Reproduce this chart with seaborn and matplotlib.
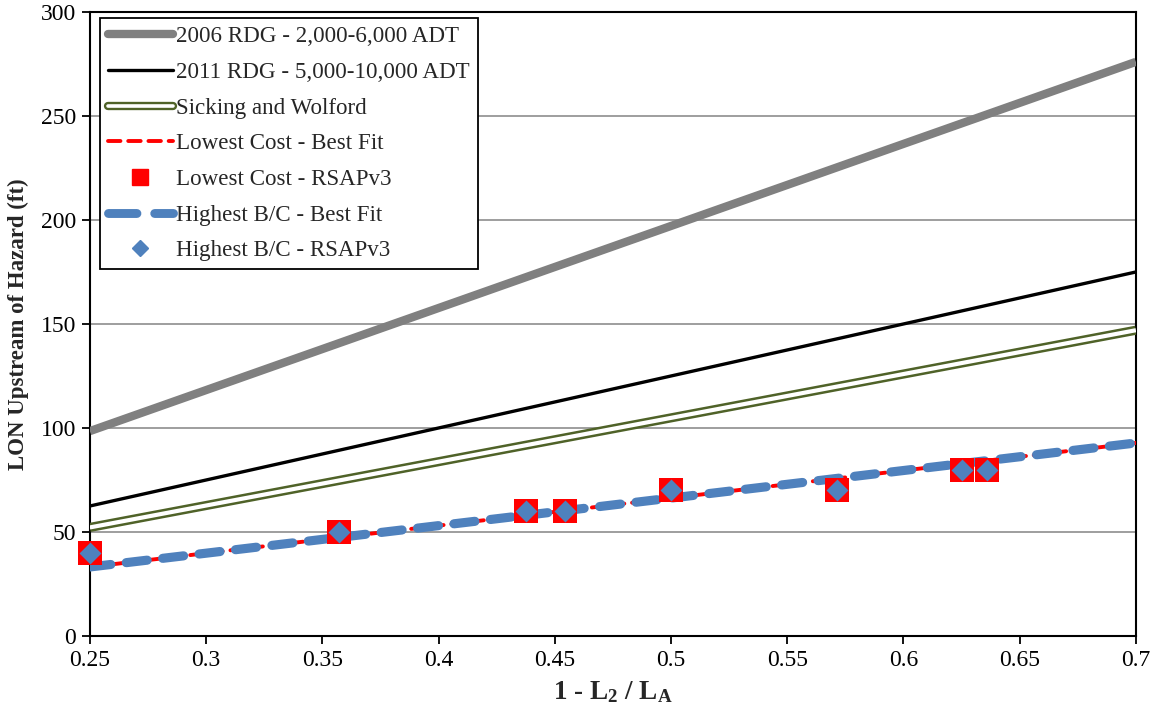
import matplotlib
matplotlib.use("Agg")
import matplotlib.pyplot as plt
from matplotlib.lines import Line2D
import seaborn as sns
import numpy as np

# ---------------- data ----------------
line_x = [0.25, 0.70]
rdg2006_y = [98.5, 276.0]
rdg2011_y = [62.5, 175.0]
sicking_y = [52.2, 147.0]
lowcost_fit_y = [33.2, 92.8]
highbc_fit_y = [33.2, 92.8]

pts_x = [0.25, 0.357, 0.4375, 0.4545, 0.5, 0.5714, 0.625, 0.636]
lowcost_pts_y = [40, 50, 60, 60, 70, 70, 80, 80]
highbc_pts_y = [40, 50, 60, 60, 70, 70, 80, 80]

x_ticks = [0.25, 0.3, 0.35, 0.4, 0.45, 0.5, 0.55, 0.6, 0.65, 0.7]
x_tick_labels = ["0.25", "0.3", "0.35", "0.4", "0.45", "0.5", "0.55", "0.6", "0.65", "0.7"]
y_ticks = [0, 50, 100, 150, 200, 250, 300]

labels = ["2006 RDG - 2,000-6,000 ADT", "2011 RDG - 5,000-10,000 ADT",
          "Sicking and Wolford", "Lowest Cost - Best Fit", "Lowest Cost - RSAPv3",
          "Highest B/C - Best Fit", "Highest B/C - RSAPv3"]

# ---------------- style ----------------
sns.set_style("white")
plt.rcParams["font.family"] = ["Liberation Serif", "DejaVu Serif"]
plt.rcParams["mathtext.fontset"] = "custom"
plt.rcParams["mathtext.rm"] = "Liberation Serif:bold"
plt.rcParams["mathtext.bf"] = "Liberation Serif:bold"
plt.rcParams["mathtext.it"] = "Liberation Serif:bold"

GRAY = "#808080"
OLIVE = "#4F6228"
RED = "#FF0000"
BLUE = "#4F81BD"

fig = plt.figure(figsize=(11.52, 7.19), dpi=100)
ax = fig.add_axes([0.078, 0.1154, 0.908, 0.868])

ax.yaxis.grid(True, color="#969696", lw=1.3, zorder=0)
ax.xaxis.grid(False)
ax.set_axisbelow(True)

sns.lineplot(x=line_x, y=rdg2006_y, ax=ax, color=GRAY, lw=6.0, solid_capstyle="butt", legend=False, zorder=3)
sns.lineplot(x=line_x, y=rdg2011_y, ax=ax, color="black", lw=2.4, solid_capstyle="butt", legend=False, zorder=3)
sns.lineplot(x=line_x, y=sicking_y, ax=ax, color=OLIVE, lw=6.6, solid_capstyle="butt", legend=False, zorder=3)
sns.lineplot(x=line_x, y=sicking_y, ax=ax, color="white", lw=3.0, solid_capstyle="butt", legend=False, zorder=3.1)
sns.lineplot(x=line_x, y=lowcost_fit_y, ax=ax, color=RED, lw=2.8,
             linestyle=(0, (3.2, 2.0)), dash_capstyle="round", legend=False, zorder=4)
sns.lineplot(x=line_x, y=highbc_fit_y, ax=ax, color=BLUE, lw=6.6,
             linestyle=(0, (2.3, 1.7)), dash_capstyle="round", legend=False, zorder=4.1)
sns.scatterplot(x=pts_x, y=lowcost_pts_y, ax=ax, marker="s", s=290, color=RED,
                linewidth=0, legend=False, zorder=5, clip_on=False)
sns.scatterplot(x=pts_x, y=highbc_pts_y, ax=ax, marker="D", s=125, color=BLUE,
                linewidth=0, legend=False, zorder=6, clip_on=False)

ax.set_xlim(0.25, 0.7)
ax.set_ylim(0, 300)
ax.set_xticks(x_ticks)
ax.set_xticklabels(x_tick_labels)
ax.set_yticks(y_ticks)
ax.tick_params(axis="both", direction="out", length=6, width=1.3, labelsize=17,
               colors="black", bottom=True, left=True, pad=4)
for s in ax.spines.values():
    s.set_visible(True)
    s.set_color("black")
    s.set_linewidth(1.5)

ax.set_ylabel("LON Upstream of Hazard (ft)", fontsize=16.5, fontweight="bold", labelpad=8)
ax.set_xlabel(r"1 - L$_\mathbf{2}$ / L$_\mathbf{A}$", fontsize=19.5, fontweight="bold", labelpad=6)

handles = [
    Line2D([], [], color=GRAY, lw=6.0, solid_capstyle="round"),
    Line2D([], [], color="black", lw=2.4, solid_capstyle="round"),
    (Line2D([], [], color=OLIVE, lw=6.0), Line2D([], [], color="white", lw=2.6)),
    Line2D([], [], color=RED, lw=2.8, linestyle=(0, (3.2, 2.0)), dash_capstyle="round"),
    Line2D([], [], color=RED, marker="s", markersize=11, linestyle="none"),
    Line2D([], [], color=BLUE, lw=6.4, linestyle=(0, (3.2, 2.0)), dash_capstyle="round"),
    Line2D([], [], color=BLUE, marker="D", markersize=8.5, linestyle="none"),
]
leg = ax.legend(handles, labels, loc="upper left", bbox_to_anchor=(0.0096, 0.99),
                borderaxespad=0, fontsize=16.6, frameon=True, fancybox=False,
                edgecolor="black", framealpha=1, handlelength=2.8, handletextpad=0.15,
                labelspacing=0.63, borderpad=0.35)
leg.get_frame().set_linewidth(1.3)

fig.savefig("out.png", dpi=100)
